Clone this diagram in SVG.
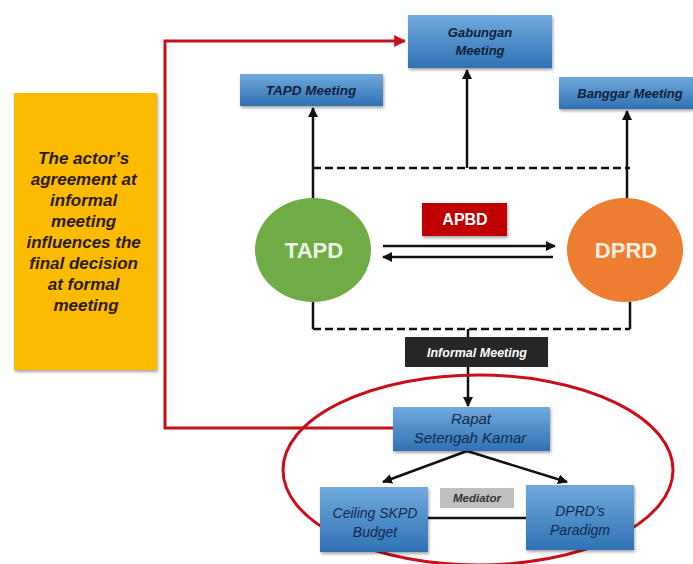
<svg xmlns="http://www.w3.org/2000/svg" width="693" height="564" viewBox="0 0 693 564">
<style>
.blue{fill:url(#bg);filter:url(#sh)}
.tb{font-family:"Liberation Sans",Arial,sans-serif;font-weight:bold;font-style:italic;fill:#0d1f3c;text-anchor:middle}
.ti{font-family:"Liberation Sans",Arial,sans-serif;font-style:italic;fill:#10284f;text-anchor:middle}
.ln{stroke:#111;stroke-width:2.5;fill:none}
.dash{stroke:#111;stroke-width:2.5;fill:none;stroke-dasharray:8 4}
.red{stroke:#c8101a;stroke-width:3;fill:none}
</style>
<defs>
<linearGradient id="bg" x1="0" y1="0" x2="0" y2="1">
<stop offset="0" stop-color="#72a9dc"/>
<stop offset="1" stop-color="#2f72b4"/>
</linearGradient>
<filter id="sh" x="-10%" y="-10%" width="130%" height="140%">
<feDropShadow dx="1" dy="2" stdDeviation="1.5" flood-color="#000" flood-opacity="0.35"/>
</filter>
<marker id="ah" viewBox="0 0 10 10" refX="9" refY="5" markerWidth="4" markerHeight="4" orient="auto-start-reverse">
<path d="M0,0 L10,5 L0,10 z" fill="#111"/>
</marker>
<marker id="rh" viewBox="0 0 10 10" refX="9" refY="5" markerWidth="4" markerHeight="4" orient="auto">
<path d="M0,0 L10,5 L0,10 z" fill="#c8101a"/>
</marker>
</defs>

<g id="note">
<rect x="14" y="93" width="143" height="277" fill="#fdbb00" filter="url(#sh)"/>
<text class="tb" font-size="17" style="fill:#2a1a00">
<tspan x="86" y="164">The actor’s</tspan>
<tspan x="86" y="185">agreement at</tspan>
<tspan x="86" y="206">informal</tspan>
<tspan x="86" y="227">meeting</tspan>
<tspan x="86" y="248">influences the</tspan>
<tspan x="86" y="269">final decision</tspan>
<tspan x="86" y="290">at formal</tspan>
<tspan x="86" y="311">meeting</tspan>
</text>
</g>

<g id="connectors">
<path class="red" d="M393,428 H165 V41 H405" marker-end="url(#rh)"/>
<path class="ln" d="M313,198 V108" marker-end="url(#ah)"/>
<path class="ln" d="M627,198 V111" marker-end="url(#ah)"/>
<path class="ln" d="M467,168 V70" marker-end="url(#ah)"/>
<path class="dash" d="M313,168 H630"/>
<path class="ln" d="M313,302 V329"/>
<path class="ln" d="M630,302 V329"/>
<path class="dash" d="M313,329 H630"/>
<path class="ln" d="M468,329 V337"/>
<path class="ln" d="M468,367 V406" marker-end="url(#ah)"/>
<path class="ln" d="M383,246 H555" marker-end="url(#ah)"/>
<path class="ln" d="M553,257 H383" marker-end="url(#ah)"/>
<path class="ln" d="M467,451 L383,482" marker-end="url(#ah)"/>
<path class="ln" d="M467,451 L567,482" marker-end="url(#ah)"/>
<path class="ln" d="M428,518 H526"/>
<ellipse cx="478" cy="470" rx="195" ry="95" class="red"/>
</g>

<g id="gabungan">
<rect class="blue" x="408" y="15" width="144" height="53"/>
<text class="tb" font-size="13"><tspan x="480" y="37">Gabungan</tspan><tspan x="480" y="55">Meeting</tspan></text>
</g>
<g id="tapd-meeting">
<rect class="blue" x="240" y="74" width="143" height="32"/>
<text class="tb" font-size="13.5" x="311" y="95">TAPD Meeting</text>
</g>
<g id="banggar-meeting">
<rect class="blue" x="559" y="77" width="134" height="32"/>
<text class="tb" font-size="13" x="630" y="98">Banggar Meeting</text>
</g>
<g id="tapd">
<ellipse cx="313" cy="250" rx="58" ry="52" fill="#6fac46"/>
<text x="314" y="258" font-family="Liberation Sans,Arial,sans-serif" font-weight="bold" font-size="22" fill="#eef6e6" text-anchor="middle">TAPD</text>
</g>
<g id="dprd">
<ellipse cx="625" cy="250" rx="58" ry="52" fill="#ed7d31"/>
<text x="626" y="258" font-family="Liberation Sans,Arial,sans-serif" font-weight="bold" font-size="22" fill="#fbeee0" text-anchor="middle">DPRD</text>
</g>
<g id="apbd">
<rect x="422" y="203" width="85" height="33" fill="#c00000" filter="url(#sh)"/>
<text x="465" y="225" font-family="Liberation Sans,Arial,sans-serif" font-weight="bold" font-size="16" fill="#fff" text-anchor="middle">APBD</text>
</g>
<g id="informal-meeting">
<rect x="405" y="337" width="143" height="30" fill="#262626"/>
<text class="tb" font-size="12.5" x="477" y="357" style="fill:#fff">Informal Meeting</text>
</g>
<g id="rapat">
<rect class="blue" x="393" y="407" width="157" height="44"/>
<text class="ti" font-size="15"><tspan x="471" y="424">Rapat</tspan><tspan x="470" y="443">Setengah Kamar</tspan></text>
</g>
<g id="ceiling">
<rect class="blue" x="320" y="487" width="108" height="65"/>
<text class="ti" font-size="14"><tspan x="375" y="518">Ceiling SKPD</tspan><tspan x="375" y="537">Budget</tspan></text>
</g>
<g id="paradigm">
<rect class="blue" x="526" y="485" width="108" height="65"/>
<text class="ti" font-size="14"><tspan x="580" y="516">DPRD’s</tspan><tspan x="580" y="535">Paradigm</tspan></text>
</g>
<g id="mediator">
<rect x="440" y="488" width="74" height="20" fill="#bfbfbf"/>
<text class="tb" font-size="11.5" x="477" y="502" style="fill:#333">Mediator</text>
</g>
</svg>
